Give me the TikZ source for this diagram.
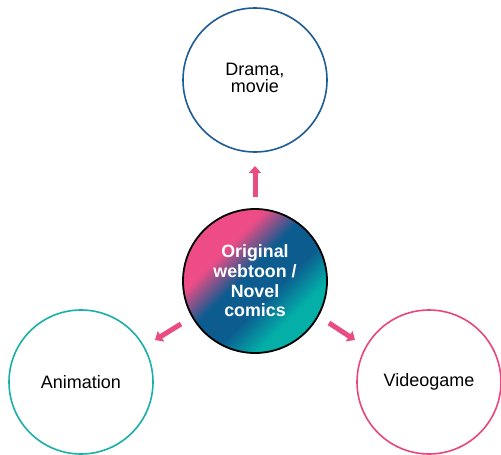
\documentclass[tikz,border=0pt]{standalone}
\usepackage{fontspec}
\setmainfont{Liberation Sans}
\usetikzlibrary{arrows.meta}
\definecolor{pinkc}{HTML}{EE4C86}
\definecolor{bluec}{HTML}{0C5C90}
\definecolor{tealc}{HTML}{03AFA7}
\definecolor{topc}{HTML}{1F5C94}
\definecolor{leftc}{HTML}{1AB0A8}
\definecolor{rightc}{HTML}{E8467F}
\definecolor{arrc}{HTML}{E84C83}
\pgfdeclareverticalshading{webgrad}{100bp}{color(0bp)=(tealc); color(32bp)=(tealc); color(43bp)=(bluec); color(54bp)=(bluec); color(65bp)=(pinkc); color(100bp)=(pinkc)}
\tikzset{
  outcircle/.style={circle, minimum size=144pt, inner sep=0pt, line width=1.6pt, fill=white, align=center, font=\fontsize{18pt}{19pt}\selectfont},
  mid/.style={circle, minimum size=144pt, inner sep=0pt, line width=1.8pt, draw=black, shading=webgrad, shading angle=45, align=center, text=white, font=\bfseries\fontsize{17.8pt}{19.7pt}\selectfont},
  bigarrow/.style={arrc, line width=5pt, -{Triangle[width=12pt,length=7pt]}}
}
\begin{document}
\begin{tikzpicture}[x=1pt,y=-1pt]
\useasboundingbox (0,0) rectangle (501,455);
\fill[white] (0,0) rectangle (501,455);
\node[outcircle, draw=topc] (top) at (255,80) {\raisebox{8pt}{\begin{tabular}{@{}c@{}}Drama,\\[-2pt]movie\end{tabular}}};
\node[mid] (c) at (255,281) {Original\\webtoon /\\Novel\\comics};
\node[outcircle, draw=leftc] (left) at (81,382) {Animation};
\node[outcircle, draw=rightc] (right) at (429,382) {Videogame};
\coordinate (a1s) at (255,197);
\coordinate (a1e) at (255,166);
\coordinate (a2s) at (181,324);
\coordinate (a2e) at (155,340);
\coordinate (a3s) at (329,323);
\coordinate (a3e) at (355,340);
\draw[bigarrow] (a1s) -- (a1e);
\draw[bigarrow] (a2s) -- (a2e);
\draw[bigarrow] (a3s) -- (a3e);
\end{tikzpicture}
\end{document}
